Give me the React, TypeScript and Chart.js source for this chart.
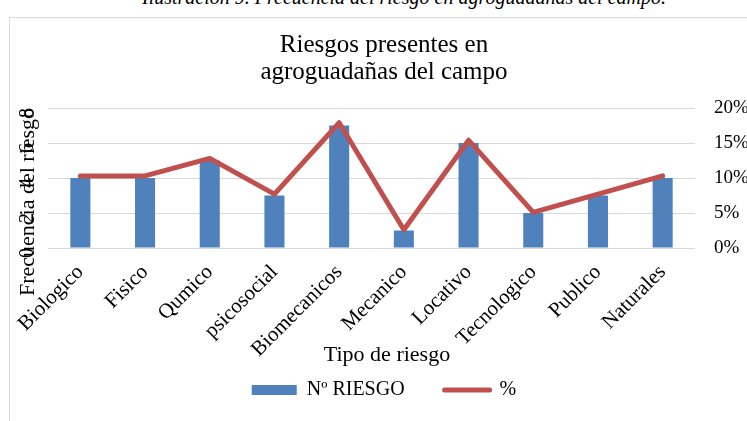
import React, { useEffect, useRef } from 'react';
import { Chart, registerables } from 'chart.js';

Chart.register(...registerables);

const FONT = "'Liberation Serif', 'Times New Roman', serif";

const CAPTION = 'Ilustración 9. Frecuencia del riesgo en agroguadañas del campo.';
const TITLE_LINES = ['Riesgos presentes en', 'agroguadañas del campo'];
const X_TITLE = 'Tipo de riesgo';
const Y_TITLE = 'Frecuencia del riesgo';
const SERIES_BAR = 'Nº RIESGO';
const SERIES_LINE = '%';

const categories = [
  'Biologico',
  'Fisico',
  'Qumico',
  'psicosocial',
  'Biomecanicos',
  'Mecanico',
  'Locativo',
  'Tecnologico',
  'Publico',
  'Naturales',
];
const nRiesgo = [4, 4, 5, 3, 7, 1, 6, 2, 3, 4];
const porcentaje = [10.3, 10.3, 12.8, 7.7, 17.9, 2.6, 15.4, 5.1, 7.7, 10.3];

const leftMin = 0;
const leftMax = 8;
const leftStep = 2;
const rightMin = 0;
const rightMax = 20;
const rightStep = 5;

const BLUE = '#4f81bd';
const RED = '#c0504d';
const GRID = '#d9d9d9';

export default function App() {
  const ref = useRef<HTMLCanvasElement | null>(null);

  useEffect(() => {
    if (!ref.current) return;
    const axisTitles = {
      id: 'axisTitles',
      afterLayout(chart: any) {
        // let the rotated category labels extend below the axis box (no clipping)
        const xs = chart.scales.x;
        if (xs) xs.bottom = chart.height;
      },
      afterDraw(chart: any) {
        const ctx = chart.ctx;
        ctx.save();
        ctx.fillStyle = '#000';
        ctx.font = `22px ${FONT}`;
        ctx.textAlign = 'center';
        ctx.textBaseline = 'middle';
        ctx.fillText(X_TITLE, 377, 337);
        ctx.translate(18, 184);
        ctx.rotate(-Math.PI / 2);
        ctx.fillText(Y_TITLE, 0, 0);
        ctx.restore();
      },
    };

    const chart = new Chart(ref.current, {
      type: 'bar',
      data: {
        labels: categories,
        datasets: [
          {
            type: 'line',
            label: SERIES_LINE,
            data: porcentaje,
            yAxisID: 'y1',
            borderColor: RED,
            backgroundColor: RED,
            borderWidth: 5,
            pointRadius: 0,
            tension: 0,
            borderJoinStyle: 'round',
            borderCapStyle: 'round',
            order: 0,
          } as any,
          {
            type: 'bar',
            label: SERIES_BAR,
            data: nRiesgo,
            yAxisID: 'y',
            backgroundColor: BLUE,
            borderWidth: 0,
            barPercentage: 0.31,
            categoryPercentage: 1,
            order: 1,
          },
        ],
      },
      options: {
        responsive: false,
        animation: false,
        devicePixelRatio: 1,
        layout: { padding: { top: 0, left: 0, right: 0, bottom: 11 } },
        font: { family: FONT },
        plugins: {
          tooltip: { enabled: false },
          title: {
            display: true,
            text: TITLE_LINES,
            color: '#000',
            font: { family: FONT, size: 25, weight: 'normal', lineHeight: 1.08 },
            padding: { top: 13.5, bottom: 22.5 },
          },
          legend: {
            display: true,
            position: 'bottom',
            labels: {
              color: '#000',
              font: { family: FONT, size: 20 },
              usePointStyle: true,
              pointStyleWidth: 45,
              boxWidth: 45,
              boxHeight: 10,
              padding: 40,
              generateLabels: () => [
                {
                  text: SERIES_BAR,
                  fillStyle: BLUE,
                  strokeStyle: BLUE,
                  lineWidth: 0,
                  pointStyle: 'rect',
                  fontColor: '#000',
                  datasetIndex: 1,
                  hidden: false,
                } as any,
                {
                  text: SERIES_LINE,
                  fillStyle: RED,
                  strokeStyle: RED,
                  lineWidth: 5,
                  lineCap: 'round',
                  pointStyle: 'line',
                  fontColor: '#000',
                  datasetIndex: 0,
                  hidden: false,
                } as any,
              ],
            },
          },
        },
        scales: {
          x: {
            grid: { display: false },
            border: { display: false },
            ticks: {
              color: '#000',
              font: { family: FONT, size: 21 },
              minRotation: 45,
              maxRotation: 45,
              autoSkip: false,
              padding: 4,
            },
            afterFit(s: any) {
              s.height = 92;
            },
          },
          y: {
            position: 'left',
            min: leftMin,
            max: leftMax,
            ticks: {
              stepSize: leftStep,
              color: '#000',
              font: { family: FONT, size: 20 },
              minRotation: 90,
              maxRotation: 90,
              padding: 20,
            },
            grid: { color: GRID, lineWidth: 1, drawTicks: false },
            border: { display: false },
            afterFit(s: any) {
              s.width = 38;
            },
          },
          y1: {
            position: 'right',
            min: rightMin,
            max: rightMax,
            ticks: {
              stepSize: rightStep,
              color: '#000',
              font: { family: FONT, size: 19 },
              padding: 19,
              callback: (v: any) => `${v}%`,
            },
            grid: { drawOnChartArea: false, drawTicks: false },
            border: { display: false },
            afterFit(s: any) {
              s.width = 63;
            },
          },
        },
      },
      plugins: [axisTitles],
    });
    return () => chart.destroy();
  }, []);

  return (
    <div
      style={{
        position: 'fixed',
        left: 0,
        top: 0,
        width: 747,
        height: 421,
        overflow: 'hidden',
        background: '#fff',
      }}
    >
      <div
        style={{
          position: 'absolute',
          left: 0,
          top: -13,
          width: 808,
          textAlign: 'center',
          whiteSpace: 'nowrap',
          fontFamily: FONT,
          fontStyle: 'italic',
          fontSize: 20,
          lineHeight: '20px',
          color: '#000',
        }}
      >
        {CAPTION}
      </div>
      <div
        style={{
          position: 'absolute',
          left: 9,
          top: 17,
          width: 800,
          height: 500,
          border: `1px solid ${GRID}`,
        }}
      />
      <canvas
        ref={ref}
        width={748}
        height={403}
        style={{ position: 'absolute', left: 10, top: 18, width: 748, height: 403, display: 'block' }}
      />
    </div>
  );
}
